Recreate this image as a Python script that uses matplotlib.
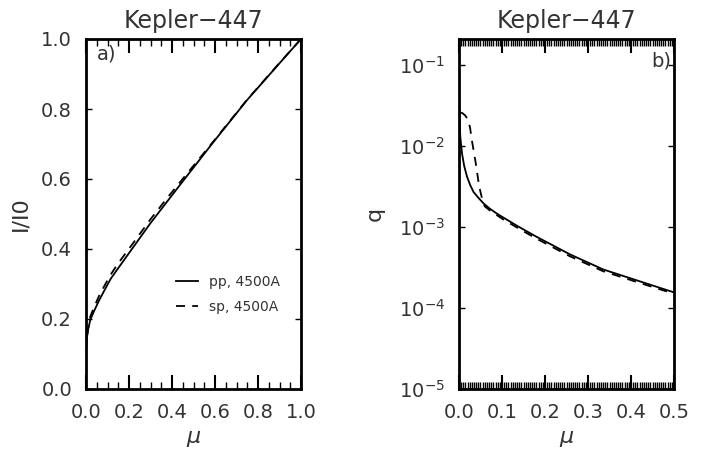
import numpy as np
import matplotlib
matplotlib.use('Agg')
import matplotlib.pyplot as plt
from matplotlib.ticker import MultipleLocator, FixedLocator, NullLocator

# panel a: I/I0 vs mu
mu_a = [0.0, 0.005, 0.01, 0.02, 0.037, 0.06, 0.084, 0.115, 0.146, 0.223, 0.30, 0.378,
        0.456, 0.592, 0.747, 0.902, 1.0]
I_pp = [0.12, 0.15, 0.17, 0.198, 0.222, 0.252, 0.28, 0.315, 0.342, 0.408, 0.474, 0.536,
        0.598, 0.705, 0.824, 0.932, 1.0]
I_sp = [0.11, 0.15, 0.175, 0.207, 0.233, 0.265, 0.293, 0.327, 0.356, 0.42, 0.485, 0.546,
        0.605, 0.707, 0.825, 0.933, 1.0]

# panel b: q vs mu
mu_b_pp = [0.0, 0.001, 0.003, 0.007, 0.012, 0.0186, 0.026, 0.034, 0.045, 0.057, 0.072,
           0.087, 0.103, 0.14, 0.18, 0.258, 0.335, 0.413, 0.5]
q_pp    = [0.04, 0.025, 0.013, 0.0081, 0.0057, 0.0042, 0.0033, 0.0027, 0.0023, 0.00196, 0.00168,
           0.00148, 0.00131, 0.001, 7.6e-4, 4.6e-4, 3.0e-4, 2.2e-4, 1.56e-4]
mu_b_sp = [0.003, 0.008, 0.014, 0.019, 0.0226, 0.026, 0.030, 0.034, 0.038, 0.042, 0.046,
           0.05, 0.055, 0.06, 0.072, 0.103, 0.14, 0.18, 0.258, 0.335, 0.413, 0.5]
q_sp    = [0.026, 0.0255, 0.024, 0.022, 0.020, 0.0165, 0.0117, 0.0088, 0.0066, 0.0048, 0.0034,
           0.0027, 0.0021, 0.0018, 0.0016, 0.00124, 9.5e-4, 7.2e-4, 4.35e-4, 2.85e-4, 2.1e-4, 1.5e-4]

plt.rcParams['font.family'] = 'DejaVu Sans'
txt = '#333333'

fig = plt.figure(figsize=(7.13, 4.51), dpi=100)
ax1 = fig.add_axes([86/713, 1-389/451, 215/713, 350/451])
ax2 = fig.add_axes([459/713, 1-389/451, 215/713, 350/451])

def style(ax):
    for s in ax.spines.values():
        s.set_linewidth(2)
    ax.tick_params(which='both', direction='in', top=True, right=True, labelsize=14,
                   labelcolor=txt, pad=10)
    ax.tick_params(axis='x', which='major', length=10, width=1.5)
    ax.tick_params(axis='x', which='minor', length=5, width=1.0)
    ax.tick_params(axis='y', which='major', length=4, width=1)

# ---- panel a
ax1.plot(mu_a, I_pp, 'k-', lw=1.3, label='pp, 4500A')
ax1.plot(mu_a, I_sp, 'k--', lw=1.3, dashes=(5, 4), label='sp, 4500A')
ax1.set_xlim(0, 1)
ax1.set_ylim(0, 1)
ax1.xaxis.set_major_locator(MultipleLocator(0.2))
ax1.xaxis.set_minor_locator(MultipleLocator(0.05))
ax1.yaxis.set_major_locator(MultipleLocator(0.2))
ax1.yaxis.set_minor_locator(NullLocator())
ax1.xaxis.set_major_formatter(plt.FormatStrFormatter('%.1f'))
ax1.yaxis.set_major_formatter(plt.FormatStrFormatter('%.1f'))
style(ax1)
ax1.set_title('Kepler\u2212447', fontsize=17, color=txt, pad=8)
ax1.set_xlabel(r'$\mu$', fontsize=16, color=txt, labelpad=5)
ax1.set_ylabel('I/I0', fontsize=16, color=txt, labelpad=8)
ax1.text(0.05, 0.985, 'a)', transform=ax1.transAxes, fontsize=14, color=txt, va='top')
ax1.legend(loc='center left', bbox_to_anchor=(0.36, 0.27), frameon=False, fontsize=10,
           handlelength=1.6, labelspacing=0.8, handletextpad=0.8, labelcolor=txt)

# ---- panel b
ax2.plot(mu_b_pp, q_pp, 'k-', lw=1.3)
ax2.plot(mu_b_sp, q_sp, 'k--', lw=1.3, dashes=(5, 4))
ax2.set_yscale('log')
ax2.set_xlim(0, 0.5)
ax2.set_ylim(1e-5, 0.21)
ax2.xaxis.set_major_locator(MultipleLocator(0.1))
ax2.xaxis.set_minor_locator(MultipleLocator(0.005))
ax2.yaxis.set_major_locator(FixedLocator([1e-5, 1e-4, 1e-3, 1e-2, 1e-1]))
ax2.yaxis.set_minor_locator(NullLocator())
ax2.xaxis.set_major_formatter(plt.FormatStrFormatter('%.1f'))
style(ax2)
ax2.set_title('Kepler\u2212447', fontsize=17, color=txt, pad=8)
ax2.set_xlabel(r'$\mu$', fontsize=16, color=txt, labelpad=5)
ax2.set_ylabel('q', fontsize=16, color=txt, labelpad=10)
ax2.text(0.985, 0.965, 'b)', transform=ax2.transAxes, fontsize=14, color=txt, va='top', ha='right')

fig.savefig('out.png', dpi=100)
